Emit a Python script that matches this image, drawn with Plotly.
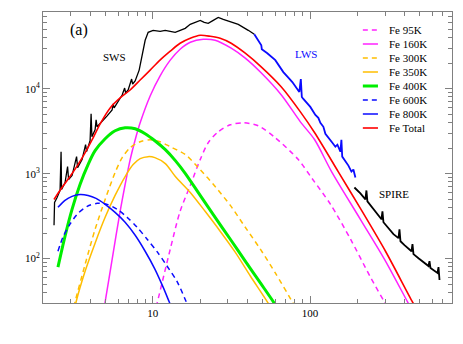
import plotly.graph_objects as go

# observed spectrum (wavelength in micron, flux density)
sws_wl = [2.351, 2.369, 2.458, 2.568, 2.606, 2.625, 2.763, 2.867, 2.909, 3.062, 3.271, 3.320,
          3.545, 3.732, 3.787, 3.987, 4.046, 4.094, 4.290, 4.354, 4.418, 4.754, 5.117, 5.505,
          5.587, 5.669, 6.011, 6.377, 6.614, 6.711, 6.962, 7.327, 7.435, 7.713, 8.181, 8.549,
          8.932, 9.334, 10.04, 11.13, 11.98, 12.89, 13.87, 14.93, 16.06, 17.28, 18.60, 20.01,
          21.22, 22.50, 24.22, 26.06, 28.04, 31.07, 34.94, 40.46, 44.19]
sws_flux = [247, 459, 525, 634, 1815, 651, 787, 1211, 853, 950, 1586, 1179,
            1463, 2191, 1815, 2441, 5054, 2719, 3284, 4300, 3561, 4074, 4790, 5630,
            6619, 5943, 7178, 8437, 10190, 8904, 9656, 12990, 11350, 12310, 16560, 26180,
            37190, 46130, 48690, 47390, 48690, 47390, 46130, 48690, 51380, 57240, 60400, 63740,
            60400, 58800, 63740, 69110, 65500, 62030, 57240, 48690, 43710]

lws_wl = [44.19, 46.85, 48.96, 49.32, 53.47, 60.11, 67.60, 72.5, 77.14, 85.46, 87.36,
          88.65, 90.62, 100.4, 108.1, 112.9, 116.3, 121.6, 125.2, 138.7, 144.9, 149.3, 156.0,
          158.3, 160.2, 175.4, 183.3, 188.7, 194.3]
lws_flux = [43710, 37190, 32490, 29170, 26180, 21680, 15690, 13600, 11980, 9150, 12990,
            7995, 7574, 6107, 4920, 4539, 3966, 3561, 2949, 2313, 2077, 2191, 1815,
            2507, 1586, 1244, 1058, 1117, 900]

spire_wl = [191.5, 209.1, 225.0, 228.4, 231.7, 253.1, 284.6, 288.8, 293.1, 339.3, 365.2, 370.6,
            376.1, 398.7, 441.9, 448.4, 455.0, 489.6, 566.9, 575.3, 583.8, 646.9, 656.5, 666.3]
spire_flux = [687, 585, 497, 634, 471, 380, 290, 360, 268, 194, 174, 221,
              160, 144, 122, 148, 113, 101, 81.7, 93.5, 77.4, 67.7, 79.5, 56.0]

# Fe grain model components
fe95_wl = [10.5, 10.7, 12.9, 14.9, 17.3, 20.0, 22.5, 26.06, 31.07, 37.6, 46.9, 60.1, 84.2, 103,
           135, 181, 242, 297, 311]
fe95_flux = [27, 31, 129, 360, 726, 1463, 2313, 3112, 3757, 3966, 3658, 2647, 1463, 876,
             435, 169, 60.7, 31, 27]

fe160_wl = [4.90, 4.97, 5.51, 6.19, 6.66, 7.17, 7.72, 8.30, 9.61, 11.1, 12.9, 14.9, 17.3, 20.9,
            24.9, 31.5, 38.7, 48.3, 65.7, 86.8, 107, 137, 209, 302, 417, 435]
fe160_flux = [27, 31, 98.7, 360, 745, 1463, 2507, 3966, 8210, 14080, 21680, 29170, 35240, 38200,
              37190, 29970, 22880, 15690, 8437, 4074, 2507, 1058, 290, 93.5, 31, 27]

fe300_wl = [3.15, 3.20, 3.71, 4.29, 4.97, 5.75, 6.38, 7.17, 8.30, 9.61, 11.1, 12.9, 16.1, 20.0,
            24.9, 31.1, 38.7, 48.3, 60.1, 77.1, 80.6]
fe300_flux = [27, 31, 86.2, 221, 497, 1030, 1544, 2021, 2376, 2507, 2376, 2077, 1674, 1117,
              706, 423, 234, 129, 67.7, 31, 27]

fe350_wl = [3.20, 3.25, 3.71, 4.29, 4.97, 5.75, 6.66, 7.49, 8.30, 9.33, 10.3, 12.0, 13.9, 17.3,
            21.5, 26.8, 33.4, 41.7, 53.5, 55.9]
fe350_flux = [27, 31, 71.4, 152, 306, 554, 925, 1278, 1503, 1586, 1544, 1313, 925, 601,
              360, 210, 119, 62.4, 31, 27]

fe400_wl = [2.49, 2.76, 3.06, 3.44, 3.87, 4.29, 4.97, 5.75, 6.66, 7.72, 8.93, 10.3, 12.0, 13.9,
            16.1, 20.0, 24.9, 31.1, 38.7, 48.3, 58.4, 61.0]
fe400_flux = [79.5, 183, 380, 745, 1278, 1864, 2576, 3197, 3466, 3374, 2949, 2441, 1915, 1424,
              1003, 554, 306, 169, 93.5, 51.7, 31, 27]

fe600_wl = [2.49, 2.68, 2.97, 3.34, 3.82, 4.42, 5.12, 5.93, 6.86, 7.94, 9.20, 10.7, 12.3, 14.3,
            16.3, 16.8]
fe600_flux = [122, 179, 254, 341, 412, 447, 435, 380, 306, 234, 169, 119, 81.7, 53.1, 31, 27]

fe800_wl = [2.49, 2.76, 3.06, 3.44, 3.87, 4.35, 4.97, 5.75, 6.66, 7.72, 8.93, 10.3, 11.6, 12.7,
            13.1]
fe800_flux = [401, 484, 540, 569, 554, 511, 435, 350, 268, 188, 122, 75.3, 46.4, 31, 27]

total_wl = [2.35, 2.64, 2.97, 3.34, 3.71, 4.11, 4.62, 5.35, 6.19, 7.17, 8.30, 9.61, 11.1, 12.9,
            14.9, 17.3, 20.0, 23.2, 26.8, 31.5, 38.7, 48.3, 65.7, 86.8, 107, 151, 209, 302,
            448, 469]
total_flux = [497, 687, 925, 1278, 1767, 2507, 3861, 5943, 7784, 9656, 12650, 16560, 21680, 27640,
              34290, 39240, 42560, 41410, 39240, 34290, 26180, 18440, 10470, 5337, 3029, 1058, 390, 122,
              31, 27]

labels = ["Fe 95K", "Fe 160K", "Fe 300K", "Fe 350K", "Fe 400K", "Fe 600K", "Fe 800K", "Fe Total"]

MAGENTA = "#ff22ff"
YELLOW = "#ffbe00"
GREEN = "#00ee00"
BLUE = "#0a0aff"
RED = "#ff0000"
DASH = "5px,4px"
SERIF = "Liberation Serif, Times New Roman, serif"

models = [
    (fe95_wl, fe95_flux, MAGENTA, DASH, 1.5),
    (fe160_wl, fe160_flux, MAGENTA, "solid", 1.5),
    (fe300_wl, fe300_flux, YELLOW, DASH, 1.5),
    (fe350_wl, fe350_flux, YELLOW, "solid", 1.5),
    (fe400_wl, fe400_flux, GREEN, "solid", 3),
    (fe600_wl, fe600_flux, BLUE, DASH, 1.5),
    (fe800_wl, fe800_flux, BLUE, "solid", 1.5),
    (total_wl, total_flux, RED, "solid", 1.6),
]

fig = go.Figure()

fig.add_trace(go.Scatter(x=sws_wl, y=sws_flux, mode="lines",
                         line=dict(color="black", width=1.3), showlegend=False))
fig.add_trace(go.Scatter(x=lws_wl, y=lws_flux, mode="lines",
                         line=dict(color=BLUE, width=1.8), showlegend=False))
fig.add_trace(go.Scatter(x=spire_wl, y=spire_flux, mode="lines",
                         line=dict(color="black", width=1.8), showlegend=False))

for (wl, flux, color, dash, width), name in zip(models, labels):
    fig.add_trace(go.Scatter(
        x=wl, y=flux, mode="lines", name=name,
        line=dict(color=color, dash=dash, width=width, shape="spline", smoothing=0.8),
        showlegend=False,
    ))

# hand-drawn legend (compact rows like the original)
shapes = []
annotations = []
for i, ((_, _, color, dash, width), name) in enumerate(zip(models, labels)):
    yp = (303 - 30 - 14.0 * i) / 291
    shapes.append(dict(type="line", xref="paper", yref="paper",
                       x0=0.782, x1=0.819, y0=yp, y1=yp,
                       line=dict(color=color, dash=dash, width=width)))
    annotations.append(dict(xref="paper", yref="paper", x=0.841, y=yp, text=name,
                            showarrow=False, xanchor="left", yanchor="middle",
                            font=dict(family=SERIF, size=11, color="black")))

annotations += [
    dict(xref="paper", yref="paper", x=0.088, y=0.938, text="(a)", showarrow=False,
         xanchor="center", yanchor="middle",
         font=dict(family=SERIF, size=16, color="black")),
    dict(xref="paper", yref="paper", x=0.174, y=0.845, text="SWS", showarrow=False,
         xanchor="center", yanchor="middle",
         font=dict(family=SERIF, size=11, color="black")),
    dict(xref="paper", yref="paper", x=0.643, y=0.856, text="LWS", showarrow=False,
         xanchor="center", yanchor="middle",
         font=dict(family=SERIF, size=11, color=BLUE)),
    dict(xref="paper", yref="paper", x=0.858, y=0.375, text="SPIRE", showarrow=False,
         xanchor="center", yanchor="middle",
         font=dict(family=SERIF, size=11, color="black")),
]

x_minor = [m * 10 ** k for k in range(0, 3) for m in range(2, 10)]
y_minor = [m * 10 ** k for k in range(1, 5) for m in range(2, 10)]

axis_common = dict(
    type="log", showgrid=False, zeroline=False, automargin=False,
    showline=True, linecolor="#808080", linewidth=1, mirror="allticks",
    ticks="inside", ticklen=7, tickcolor="#808080", tickwidth=1,
    tickfont=dict(family=SERIF, size=11, color="black"),
)

fig.update_layout(
    width=463, height=344,
    margin=dict(l=43, r=11, t=12, b=41),
    paper_bgcolor="white", plot_bgcolor="white",
    showlegend=False,
    shapes=shapes, annotations=annotations,
    xaxis=dict(**axis_common, range=[0.30103, 2.90309],
               tickmode="array", tickvals=[10, 100], ticktext=["10", "100"],
               minor=dict(ticks="inside", ticklen=4, tickcolor="#808080",
                          tickmode="array", tickvals=x_minor, showgrid=False)),
    yaxis=dict(**axis_common, range=[1.47712, 4.90309],
               tickmode="array", tickvals=[100, 1000, 10000],
               ticktext=["10<sup>2</sup>", "10<sup>3</sup>", "10<sup>4</sup>"],
               minor=dict(ticks="inside", ticklen=4, tickcolor="#808080",
                          tickmode="array", tickvals=y_minor, showgrid=False)),
)

# drop the default page margin so the figure sits at the window's corner
fig.write_html("out.html", config={"displayModeBar": False},
               post_script="document.body.style.margin='0';")
